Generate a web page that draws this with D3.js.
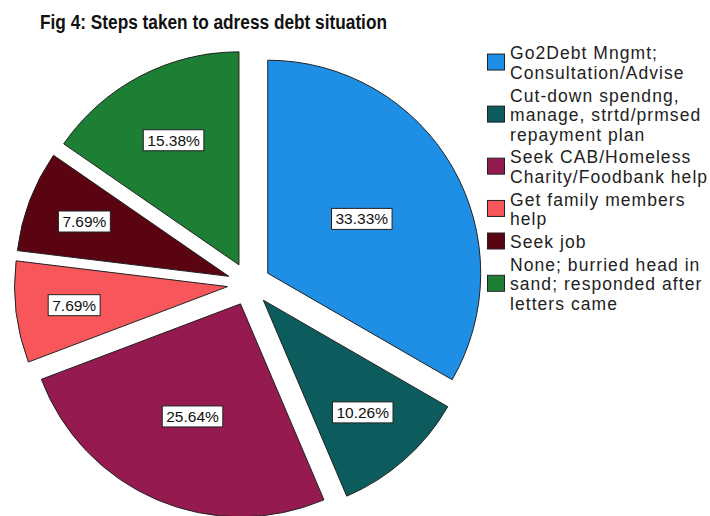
<!DOCTYPE html>
<html>
<head>
<meta charset="utf-8">
<script src="https://cdn.jsdelivr.net/npm/d3@7"></script>
<style>
  html, body { margin: 0; padding: 0; background: #fff; }
  svg { display: block; font-family: Arial, "Liberation Sans", sans-serif; }
</style>
</head>
<body>
<svg id="chart" width="710" height="516"></svg>
<script>
const title = "Fig 4: Steps taken to adress debt situation";
const categories = [
  ["Go2Debt Mngmt;", "Consultation/Advise"],
  ["Cut-down spendng,", "manage, strtd/prmsed", "repayment plan"],
  ["Seek CAB/Homeless", "Charity/Foodbank help"],
  ["Get family members", "help"],
  ["Seek job"],
  ["None; burried head in", "sand; responded after", "letters came"]
];
const values = [33.33, 10.26, 25.64, 7.69, 7.69, 15.38];
const colors = ["#1f8fe6", "#0c5c5e", "#951a4f", "#f7575b", "#5a0412", "#1c7f34"];

const svg = d3.select("#chart");

// Title
svg.append("text")
  .attr("x", 40).attr("y", 29)
  .attr("font-size", 19.5).attr("font-weight", "bold")
  .attr("textLength", 347).attr("lengthAdjust", "spacingAndGlyphs")
  .attr("fill", "#111")
  .text(title);

// Pie
const cx = 249, cy = 284, R = 213, explode = 21.6;
const total = d3.sum(values);
const pie = d3.pie().sort(null).value(d => d)(values);
const arc = d3.arc().innerRadius(0).outerRadius(R);

const g = svg.append("g").attr("transform", `translate(${cx},${cy})`);

pie.forEach((p, i) => {
  const mid = (p.startAngle + p.endAngle) / 2;
  const ox = explode * Math.sin(mid), oy = -explode * Math.cos(mid);
  const sg = g.append("g").attr("transform", `translate(${ox},${oy})`);
  sg.append("path")
    .attr("d", arc(p))
    .attr("fill", colors[i])
    .attr("stroke", "#222")
    .attr("stroke-width", 1)
    .attr("stroke-linejoin", "round");
});

// Labels
pie.forEach((p, i) => {
  const mid = (p.startAngle + p.endAngle) / 2;
  const frac = p.value / total;
  const lr = explode + R * (0.79 - 0.84 * frac);
  const lx = lr * Math.sin(mid), ly = -lr * Math.cos(mid);
  const lg = g.append("g").attr("transform", `translate(${lx},${ly})`);
  const t = lg.append("text")
    .attr("text-anchor", "middle")
    .attr("dy", "0.36em")
    .attr("font-size", 15.5)
    .attr("fill", "#111")
    .text(values[i].toFixed(2) + "%");
  const w = t.node().getComputedTextLength() + 8;
  lg.insert("rect", "text")
    .attr("x", -w / 2).attr("y", -10.5)
    .attr("width", w).attr("height", 21)
    .attr("fill", "#fff")
    .attr("stroke", "#222")
    .attr("stroke-width", 1);
});

// Legend
const lineH = 19.5, gap = 3.3, firstBase = 59.3;
const legend = svg.append("g");
let base = firstBase;
categories.forEach((lines, i) => {
  const bases = lines.map((_, k) => base + k * lineH);
  const center = d3.mean(bases) - 7;
  legend.append("rect")
    .attr("x", 487.5).attr("y", center - 8)
    .attr("width", 17).attr("height", 16)
    .attr("fill", colors[i])
    .attr("stroke", "#222").attr("stroke-width", 1);
  lines.forEach((ln, k) => {
    legend.append("text")
      .attr("x", 510).attr("y", bases[k])
      .attr("font-size", 17.5)
      .attr("letter-spacing", "1.05px")
      .attr("fill", "#222")
      .text(ln);
  });
  base += lines.length * lineH + gap;
});
</script>
</body>
</html>
